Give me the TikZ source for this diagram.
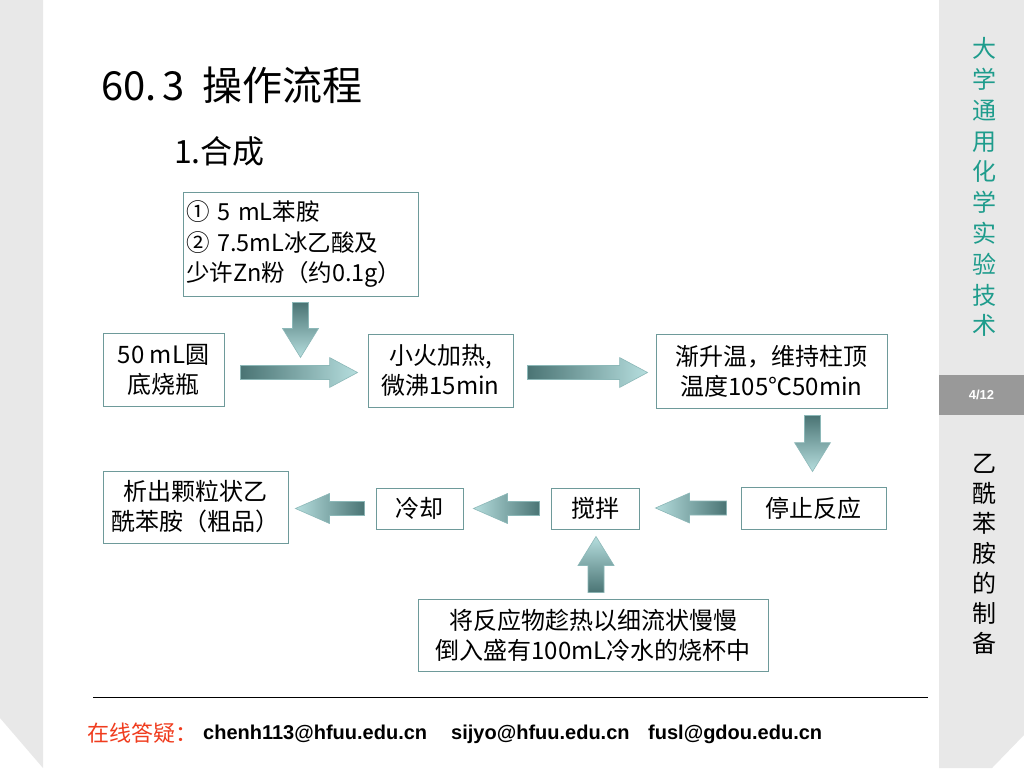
\documentclass[tikz,border=0pt]{standalone}
\usepackage{fontspec}
\setmainfont{Noto Sans CJK SC}
\newfontfamily\arialb{Liberation Sans}
\usetikzlibrary{calc}
\definecolor{boxline}{HTML}{6E9A9A}
\definecolor{ardark}{HTML}{4A7474}
\definecolor{arlight}{HTML}{B6DEDE}
\definecolor{arline}{HTML}{8CB8B8}
\definecolor{sidegray}{HTML}{E8E8E8}
\definecolor{pagegray}{HTML}{999999}
\definecolor{tealtxt}{HTML}{1E9C8C}
\definecolor{ansred}{HTML}{F03C1E}
\tikzset{
  box/.style={draw=boxline, line width=0.9pt, fill=white, inner sep=2pt, align=center,
    font=\fontsize{24}{30}\selectfont},
  barrow/.style={draw=arline, line width=0.6pt},
}
% block arrows: #1 tail, #2 tip
\newcommand\arrR[2]{\path[barrow, left color=ardark, right color=arlight] let \p1=(#1), \p2=(#2) in
  (\x1,\y1+7pt) -- (\x2-28pt,\y1+7pt) -- (\x2-28pt,\y1+15pt) -- (\x2,\y1) -- (\x2-28pt,\y1-15pt) -- (\x2-28pt,\y1-7pt) -- (\x1,\y1-7pt) -- cycle;}
\newcommand\arrL[2]{\path[barrow, left color=arlight, right color=ardark] let \p1=(#1), \p2=(#2) in
  (\x1,\y1+7pt) -- (\x2+34pt,\y1+7pt) -- (\x2+34pt,\y1+15pt) -- (\x2,\y1) -- (\x2+34pt,\y1-15pt) -- (\x2+34pt,\y1-7pt) -- (\x1,\y1-7pt) -- cycle;}
\newcommand\arrD[2]{\path[barrow, top color=ardark, bottom color=arlight] let \p1=(#1), \p2=(#2) in
  (\x1-8pt,\y1) -- (\x1-8pt,\y2+29pt) -- (\x1-18pt,\y2+29pt) -- (\x1,\y2) -- (\x1+18pt,\y2+29pt) -- (\x1+8pt,\y2+29pt) -- (\x1+8pt,\y1) -- cycle;}
\newcommand\arrU[2]{\path[barrow, top color=arlight, bottom color=ardark] let \p1=(#1), \p2=(#2) in
  (\x1-8pt,\y1) -- (\x1-8pt,\y2-29pt) -- (\x1-18pt,\y2-29pt) -- (\x1,\y2) -- (\x1+18pt,\y2-29pt) -- (\x1+8pt,\y2-29pt) -- (\x1+8pt,\y1) -- cycle;}
\begin{document}
\begin{tikzpicture}[x=1pt, y=-1pt]
\useasboundingbox (0,0) rectangle (1024,768);
\fill[white] (0,0) rectangle (1024,768);
% side bands
\fill[sidegray] (0,0) -- (43,0) -- (43,768) -- (0,718) -- cycle;
\fill[sidegray] (939,0) -- (1024,0) -- (1024,735) -- (992,768) -- (939,768) -- cycle;
\fill[pagegray] (939,375) rectangle (1024,415);
\node[white, font=\arialb\bfseries\fontsize{13}{15}\selectfont] (pg) at (981.5,395) {4/12};
\node[tealtxt, align=center, font=\fontsize{24}{30.8}\selectfont, anchor=north] (course) at (984,34)
  {大\\学\\通\\用\\化\\学\\实\\验\\技\\术};
\node[black, align=center, font=\fontsize{24}{30}\selectfont, anchor=north] (topic) at (984,451)
  {乙\\酰\\苯\\胺\\的\\制\\备};
% titles
\node[anchor=west, inner sep=0pt, font=\fontsize{40}{44}\selectfont] (title) at (101,85) {60.\hspace{6pt}3\hspace{18pt}操作流程};
\node[anchor=west, inner sep=0pt, font=\fontsize{32}{36}\selectfont] (sub) at (174,151) {1.合成};
% boxes
\node[box, text width=229pt, align=left, inner sep=3pt, minimum height=104pt, font=\fontsize{23.5}{30.5}\selectfont] (b0) at (300.5,244)
  {① 5 mL苯胺\\② 7.5mL冰乙酸及\\少许Zn粉（约0.1g）};
\node[box, minimum width=121pt, minimum height=73pt] (b1) at (163.5,369.5) {50 mL圆\\底烧瓶};
\node[box, minimum width=145pt, minimum height=73pt] (b2) at (440.5,370.5) {小火加热,\\微沸15min};
\node[box, minimum width=231pt, minimum height=74pt] (b3) at (771.5,371) {渐升温，维持柱顶\\温度105℃50min};
\node[box, minimum width=145pt, minimum height=42pt] (b4) at (813.5,508) {停止反应};
\node[box, minimum width=88pt, minimum height=41pt] (b5) at (595,508.5) {搅拌};
\node[box, minimum width=87pt, minimum height=41pt] (b6) at (419.5,508.5) {冷却};
\node[box, minimum width=185pt, minimum height=72pt] (b7) at (195.5,507) {析出颗粒状乙\\酰苯胺（粗品）};
\node[box, minimum width=350pt, minimum height=72pt] (b8) at (593,635) {将反应物趁热以细流状慢慢\\倒入盛有100mL冷水的烧杯中};
% arrows
\arrD{$(b0.south)+(0,6)$}{$(b0.south)+(0,61)$}
\arrR{$(b1.east)+(16,3)$}{$(b2.west)+(-10,3)$}
\arrR{$(b2.east)+(14,2)$}{$(b3.west)+(-8,2)$}
\arrD{$(b4.north |- b3.south)+(-1,7)$}{$(b4.north)+(-1,-15)$}
\arrL{$(b4.west)+(-14,0)$}{$(b5.east)+(16,0)$}
\arrL{$(b5.west)+(-11,0)$}{$(b6.east)+(10,0)$}
\arrL{$(b6.west)+(-11,0)$}{$(b7.east)+(7,0)$}
\arrU{$(b5.south |- b8.north)+(1,-6)$}{$(b5.south)+(1,7)$}
% footer
\draw[black, line width=1pt] (93,697) -- (928,697);
\node[anchor=west, inner sep=0pt, ansred, font=\fontsize{22}{24}\selectfont] (ask) at (87,733) {在线答疑：};
\node[anchor=west, inner sep=0pt, font=\arialb\bfseries\fontsize{20}{22}\selectfont] (m1) at (203,734) {chenh113@hfuu.edu.cn};
\node[anchor=west, inner sep=0pt, font=\arialb\bfseries\fontsize{20}{22}\selectfont] (m2) at (451,734) {sijyo@hfuu.edu.cn};
\node[anchor=west, inner sep=0pt, font=\arialb\bfseries\fontsize{20}{22}\selectfont] (m3) at (648,734) {fusl@gdou.edu.cn};
\end{tikzpicture}
\end{document}
